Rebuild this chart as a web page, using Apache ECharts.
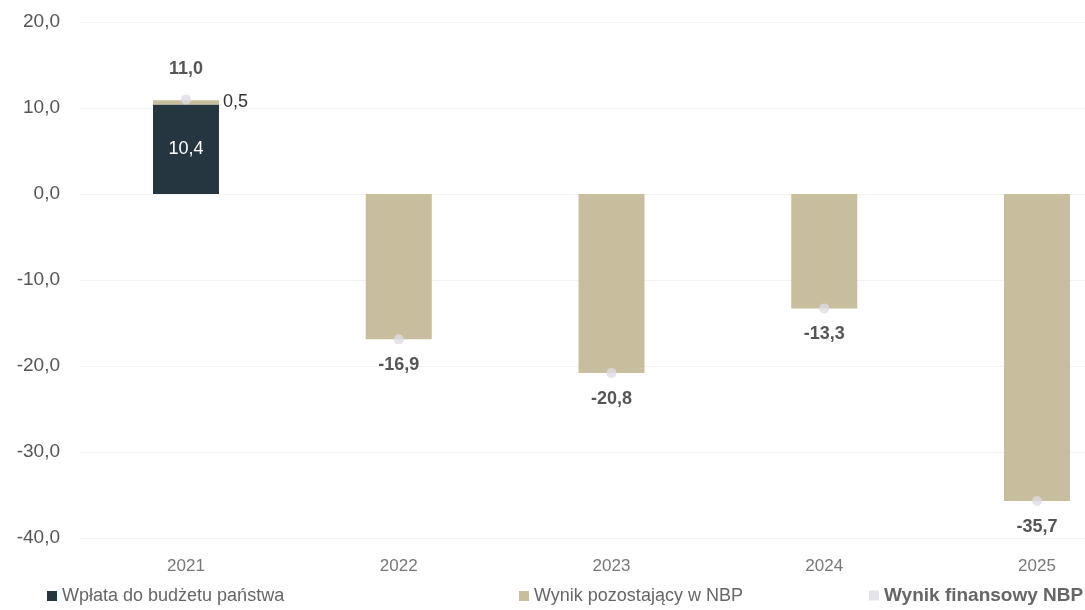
<!DOCTYPE html>
<html>
<head>
<meta charset="utf-8">
<script src="https://cdn.jsdelivr.net/npm/echarts@6/dist/echarts.min.js"></script>
<style>
  html, body { margin: 0; padding: 0; background: #fff; }
  #chart { width: 1085px; height: 610px; }
</style>
</head>
<body>
<div id="chart"></div>
<script>
// dane z wykresu
var years = ['2021', '2022', '2023', '2024', '2025'];
var wplata = [10.4, null, null, null, null];
var pozostajacy = [0.5, -16.9, -20.8, -13.3, -35.7];
var wynik = [11.0, -16.9, -20.8, -13.3, -35.7];

function fmt(v) {
    return v.toFixed(1).replace('.', ',');
}

var myChart = echarts.init(document.getElementById('chart'));
var font = 'Liberation Sans, Arial, sans-serif';

var option = {
    animation: false,
    textStyle: { fontFamily: font },
    // grid 0: os Y i linie siatki, grid 1: dane (wykres przyciety z prawej)
    grid: [
        { left: 80, right: 0, top: 22, bottom: 72 },
        { left: 186, right: 48, top: 22, bottom: 72 }
    ],
    legend: [
        {
            left: 42, bottom: 0, itemWidth: 10, itemHeight: 10, icon: 'rect',
            textStyle: { fontSize: 18, color: '#666', fontFamily: font },
            data: ['Wpłata do budżetu państwa']
        },
        {
            left: 514, bottom: 0, itemWidth: 10, itemHeight: 10, icon: 'rect',
            textStyle: { fontSize: 18, color: '#666', fontFamily: font },
            data: ['Wynik pozostający w NBP']
        },
        {
            left: 864, bottom: 0, itemWidth: 10, itemHeight: 10, icon: 'rect',
            textStyle: { fontSize: 19, color: '#666', fontWeight: 'bold', fontFamily: font },
            data: ['Wynik finansowy NBP']
        }
    ],
    xAxis: [
        {
            gridIndex: 0,
            type: 'category',
            data: years,
            show: false
        },
        {
            gridIndex: 1,
            type: 'category',
            data: years,
            boundaryGap: false,
            axisLine: { show: false },
            axisTick: { show: false },
            axisLabel: { color: '#777', fontSize: 17, margin: 20 }
        }
    ],
    yAxis: [
        {
            gridIndex: 0,
            type: 'value',
            min: -40,
            max: 20,
            interval: 10,
            axisLine: { show: false },
            axisTick: { show: false },
            splitLine: { lineStyle: { color: '#f3f3f3' } },
            axisLabel: {
                color: '#555', fontSize: 19, margin: 20,
                formatter: function (v) { return fmt(v); }
            }
        },
        {
            gridIndex: 1,
            type: 'value',
            min: -40,
            max: 20,
            interval: 10,
            show: false
        }
    ],
    series: [
        {
            name: 'Wpłata do budżetu państwa',
            type: 'bar',
            stack: 'nbp',
            xAxisIndex: 1,
            yAxisIndex: 1,
            barWidth: 66,
            itemStyle: { color: '#263640' },
            label: {
                show: true, position: 'inside', color: '#fff', fontSize: 18,
                formatter: function (p) { return fmt(p.value); }
            },
            data: wplata
        },
        {
            name: 'Wynik pozostający w NBP',
            type: 'bar',
            stack: 'nbp',
            xAxisIndex: 1,
            yAxisIndex: 1,
            barWidth: 66,
            itemStyle: { color: '#c8bd9d' },
            data: pozostajacy.map(function (v, i) {
                if (i === 0) {
                    return {
                        value: v,
                        label: {
                            show: true, position: 'right', distance: 4,
                            color: '#333', fontSize: 18,
                            formatter: function (p) { return fmt(p.value); }
                        }
                    };
                }
                return v;
            })
        },
        {
            name: 'Wynik finansowy NBP',
            type: 'scatter',
            xAxisIndex: 1,
            yAxisIndex: 1,
            symbolSize: 10,
            z: 5,
            itemStyle: { color: '#dcdce4' },
            label: {
                show: true, position: 'bottom', distance: 12,
                color: '#2a2a2a', fontSize: 18, fontWeight: 'bold',
                formatter: function (p) { return fmt(p.value); }
            },
            data: wynik.map(function (v, i) {
                if (i === 0) {
                    return { value: v, label: { position: 'top', distance: 16 } };
                }
                return v;
            })
        }
    ]
};
option && myChart.setOption(option);
</script>
</body>
</html>
